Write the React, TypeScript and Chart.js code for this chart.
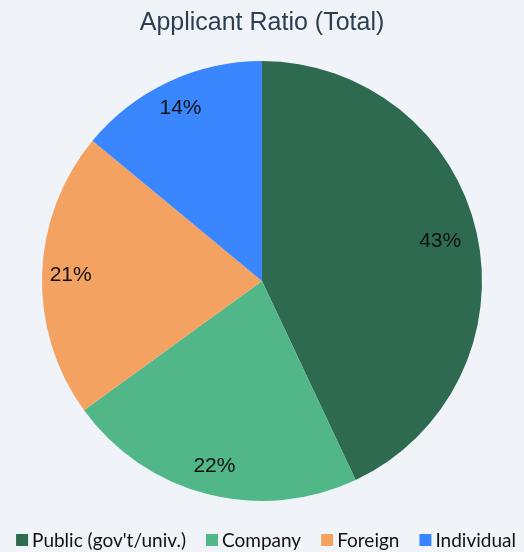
import React, { useEffect, useRef } from "react";
import { Chart, registerables } from "chart.js";

Chart.register(...registerables);

const categories = ["Public (gov't/univ.)", "Company", "Foreign", "Individual"];
const values = [43, 22, 21, 14];
const colors = ["#2d6a4f", "#52b788", "#f4a261", "#3a86ff"];
const titleText = "Applicant Ratio (Total)";

const pctLabels = {
  id: "pctLabels",
  afterDatasetsDraw(chart: any) {
    const ctx = chart.ctx;
    const meta = chart.getDatasetMeta(0);
    const data = chart.data.datasets[0].data as number[];
    const total = data.reduce((a: number, b: number) => a + b, 0);
    ctx.save();
    ctx.font = "21px 'Liberation Sans', Arial, sans-serif";
    ctx.fillStyle = "#111111";
    ctx.textAlign = "center";
    ctx.textBaseline = "middle";
    meta.data.forEach((arc: any, i: number) => {
      const { x, y, startAngle, endAngle, outerRadius } = arc.getProps(
        ["x", "y", "startAngle", "endAngle", "outerRadius"],
        true
      );
      const mid = (startAngle + endAngle) / 2;
      const r = outerRadius * (i === 0 ? 0.83 : 0.87);
      const pct = Math.round((data[i] / total) * 100);
      ctx.fillText(pct + "%", x + Math.cos(mid) * r, y + Math.sin(mid) * r);
    });
    ctx.restore();
  },
};

const titleAndLegend = {
  id: "titleAndLegend",
  afterDraw(chart: any) {
    const ctx = chart.ctx;
    const w = chart.width;
    ctx.save();
    ctx.font = "25px 'Liberation Sans', Arial, sans-serif";
    ctx.fillStyle = "#2c3e50";
    ctx.textAlign = "center";
    ctx.textBaseline = "middle";
    ctx.fillText(titleText, w / 2, 23);

    ctx.font = "19px Lato, 'Open Sans', sans-serif";
    const box = 12;
    const gap = 4;
    const spacing = 20;
    const widths = categories.map((c) => ctx.measureText(c).width);
    const total =
      widths.reduce((a, b) => a + b, 0) + categories.length * (box + gap) + (categories.length - 1) * spacing;
    let x = (w - total) / 2 + 4;
    const cy = 540;
    ctx.textAlign = "left";
    categories.forEach((c, i) => {
      ctx.fillStyle = colors[i];
      ctx.fillRect(x, cy - box / 2, box, box);
      x += box + gap;
      ctx.fillStyle = "#111111";
      ctx.fillText(c, x, cy + 1);
      x += widths[i] + spacing;
    });
    ctx.restore();
  },
};

export default function App() {
  const ref = useRef<HTMLCanvasElement>(null);
  useEffect(() => {
    document.body.style.margin = "0";
    document.body.style.background = "#f0f4f8";
    const chart = new Chart(ref.current!, {
      type: "pie",
      data: {
        labels: categories,
        datasets: [
          {
            data: values,
            backgroundColor: colors,
            borderWidth: 0,
          },
        ],
      },
      options: {
        animation: false,
        responsive: false,
        maintainAspectRatio: false,
        layout: { padding: { top: 61, bottom: 51, left: 0, right: 0 } },
        plugins: {
          title: { display: false },
          legend: { display: false },
          tooltip: { enabled: false },
        },
      },
      plugins: [pctLabels, titleAndLegend],
    });
    return () => chart.destroy();
  }, []);
  return (
    <div style={{ width: 524, height: 552, background: "#f0f4f8" }}>
      <canvas ref={ref} width={524} height={552} style={{ display: "block" }} />
    </div>
  );
}
